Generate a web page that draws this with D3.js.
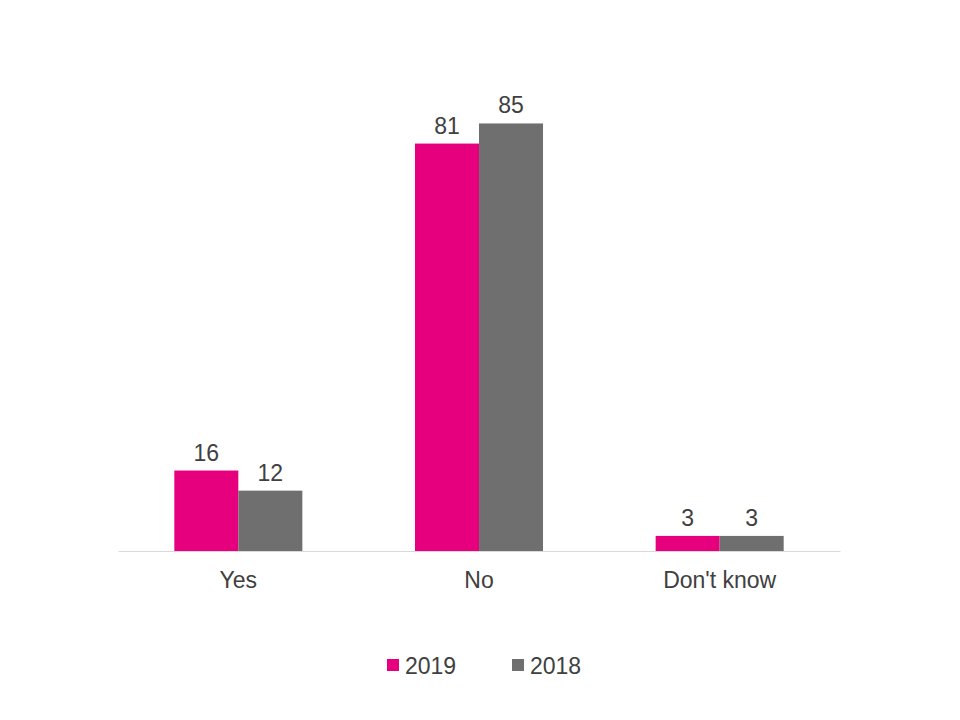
<!DOCTYPE html>
<html>
<head>
<meta charset="utf-8">
<script src="https://cdn.jsdelivr.net/npm/d3@7"></script>
<style>
html,body{margin:0;padding:0;background:#fff;}
svg{display:block;font-family:"Liberation Sans",Arial,sans-serif;}
</style>
</head>
<body>
<svg id="chart" width="960" height="720"></svg>
<script>
const categories = ["Yes", "No", "Don't know"];
const seriesNames = ["2019", "2018"];
const values2019 = [16, 81, 3];
const values2018 = [12, 85, 3];
const colors = ["#E6007E", "#6F6F6F"];

const svg = d3.select("#chart");
const baseY = 551;
const fs = 23;
const y = d3.scaleLinear().domain([0, 100]).range([baseY, baseY - 503]);
const x0 = d3.scaleBand().domain(categories).range([118, 840]).paddingInner(0.468).paddingOuter(0.234);
const x1 = d3.scaleBand().domain(seriesNames).range([0, x0.bandwidth()]);

const data = categories.map((c, i) => ({cat: c, vals: [
  {s: "2019", v: values2019[i], color: colors[0]},
  {s: "2018", v: values2018[i], color: colors[1]}
]}));

const g = svg.append("g");
const groups = g.selectAll("g.grp").data(data).join("g")
  .attr("transform", d => `translate(${x0(d.cat)},0)`);

groups.selectAll("rect").data(d => d.vals).join("rect")
  .attr("x", d => x1(d.s))
  .attr("width", x1.bandwidth())
  .attr("y", d => y(d.v))
  .attr("height", d => y(0) - y(d.v))
  .attr("fill", d => d.color);

groups.selectAll("text.val").data(d => d.vals).join("text")
  .attr("class", "val")
  .attr("x", d => x1(d.s) + x1.bandwidth() / 2)
  .attr("y", d => y(d.v) - 10)
  .attr("text-anchor", "middle")
  .attr("font-size", fs)
  .attr("fill", "#404040")
  .text(d => d.v);

// axis
const xAxis = d3.axisBottom(x0).tickSize(0);
const ax = svg.append("g").attr("transform", `translate(0,${baseY})`).call(xAxis);
ax.select(".domain").attr("stroke", "#D9D9D9").attr("stroke-width", 1);
ax.selectAll("text").attr("font-size", fs).attr("fill", "#404040")
  .attr("y", 37).attr("dy", 0)
  .attr("font-family", "Liberation Sans, Arial, sans-serif");

// legend
const legend = svg.append("g");
const legendX = [387, 512];
seriesNames.forEach((s, i) => {
  legend.append("rect").attr("x", legendX[i]).attr("y", 659).attr("width", 12).attr("height", 12).attr("fill", colors[i]);
  legend.append("text").attr("x", legendX[i] + 18).attr("y", 674).attr("font-size", fs).attr("fill", "#404040").text(s);
});
</script>
</body>
</html>
